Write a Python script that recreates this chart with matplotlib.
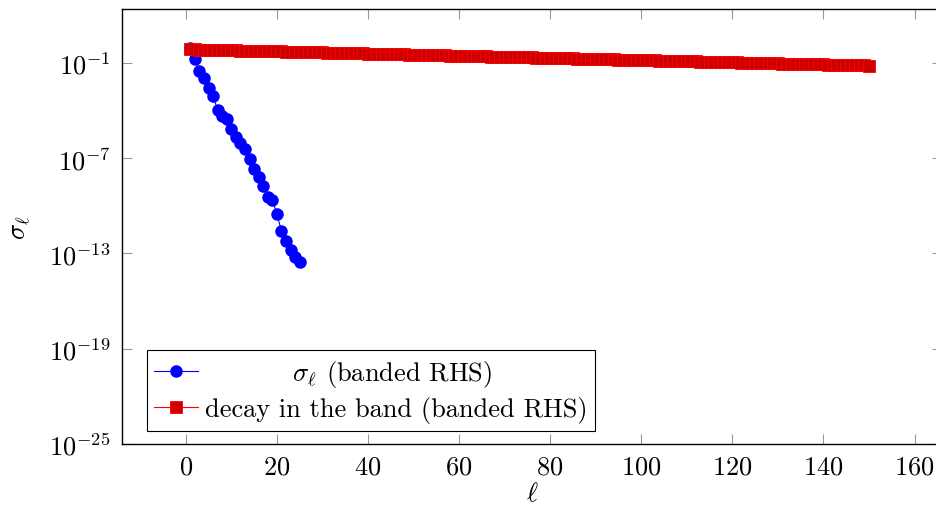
import numpy as np
import matplotlib
matplotlib.use("Agg")
import matplotlib.pyplot as plt
from matplotlib.ticker import LogFormatterSciNotation, FixedLocator, NullLocator

plt.rcParams['font.family'] = 'serif'
plt.rcParams['font.serif'] = ['cmr10']
plt.rcParams['mathtext.fontset'] = 'cm'
plt.rcParams['axes.formatter.use_mathtext'] = True

# sigma_l (banded RHS), log10 values
blue_l = list(range(1, 26))
blue_log10 = [-0.10, -0.75, -1.52, -1.97, -2.59, -3.09, -3.96, -4.34, -4.51, -5.14,
              -5.66, -6.02, -6.44, -7.08, -7.69, -8.17, -8.73, -9.42, -9.63, -10.51,
              -11.58, -12.20, -12.77, -13.25, -13.56]

# decay in the band (banded RHS), log10 values
red_l = list(range(1, 151))
red_log10 = [
    -0.152, -0.159, -0.166, -0.173, -0.179, -0.186, -0.193, -0.200, -0.207, -0.214,
    -0.221, -0.228, -0.234, -0.241, -0.248, -0.255, -0.262, -0.269, -0.276, -0.283,
    -0.289, -0.296, -0.303, -0.310, -0.317, -0.324, -0.331, -0.337, -0.344, -0.351,
    -0.358, -0.365, -0.372, -0.379, -0.386, -0.392, -0.399, -0.406, -0.413, -0.420,
    -0.427, -0.434, -0.441, -0.447, -0.454, -0.461, -0.468, -0.475, -0.482, -0.489,
    -0.496, -0.502, -0.509, -0.516, -0.523, -0.530, -0.537, -0.544, -0.550, -0.557,
    -0.564, -0.571, -0.578, -0.585, -0.592, -0.599, -0.605, -0.612, -0.619, -0.626,
    -0.633, -0.640, -0.647, -0.654, -0.660, -0.667, -0.674, -0.681, -0.688, -0.695,
    -0.702, -0.708, -0.715, -0.722, -0.729, -0.736, -0.743, -0.750, -0.757, -0.763,
    -0.770, -0.777, -0.784, -0.791, -0.798, -0.805, -0.812, -0.818, -0.825, -0.832,
    -0.839, -0.846, -0.853, -0.860, -0.866, -0.873, -0.880, -0.887, -0.894, -0.901,
    -0.908, -0.915, -0.921, -0.928, -0.935, -0.942, -0.949, -0.956, -0.963, -0.970,
    -0.976, -0.983, -0.990, -0.997, -1.004, -1.011, -1.018, -1.024, -1.031, -1.038,
    -1.045, -1.052, -1.059, -1.066, -1.073, -1.079, -1.086, -1.093, -1.100, -1.107,
    -1.114, -1.121, -1.128, -1.134, -1.141, -1.148, -1.155, -1.162, -1.169, -1.176,
]

x_ticks = [0, 20, 40, 60, 80, 100, 120, 140, 160]
y_ticks = [1e-25, 1e-19, 1e-13, 1e-7, 1e-1]

fig = plt.figure(figsize=(9.36, 5.10), dpi=100)
ax = fig.add_axes([0.1303, 0.1275, 0.876, 0.853])

ax.plot(blue_l, 10.0 ** np.array(blue_log10), color='blue', lw=0.8,
        marker='o', ms=8, mfc='blue', mec='blue',
        label=r'          $\sigma_\ell$ (banded RHS)')
ax.plot(red_l, 10.0 ** np.array(red_log10), color='red', lw=0.8,
        marker='s', ms=8, mfc=(0.8, 0, 0), mec='red', mew=0.6,
        label='decay in the band (banded RHS)')

ax.set_yscale('log')
ax.set_xlim(-14, 166)
ax.set_ylim(1e-25, 10 ** 2.39)
ax.set_xticks(x_ticks)
ax.yaxis.set_major_locator(FixedLocator(y_ticks))
ax.yaxis.set_major_formatter(LogFormatterSciNotation())
ax.yaxis.set_minor_locator(NullLocator())

ax.tick_params(which='both', direction='in', top=True, right=True,
               length=7, width=0.8, color='0.6', labelsize=19, pad=8)
for s in ax.spines.values():
    s.set_linewidth(1.0)

ax.set_xlabel(r'$\ell$', fontsize=19, labelpad=2)
ax.set_ylabel(r'$\sigma_\ell$', fontsize=19, labelpad=12)

leg = ax.legend(loc='lower left', bbox_to_anchor=(0.03, 0.03), borderaxespad=0,
                fontsize=19, fancybox=False, framealpha=1, edgecolor='black',
                handlelength=1.65, handletextpad=0.25, borderpad=0.3,
                labelspacing=0.25)
leg.get_frame().set_linewidth(0.8)

fig.savefig('out.png', dpi=100)
